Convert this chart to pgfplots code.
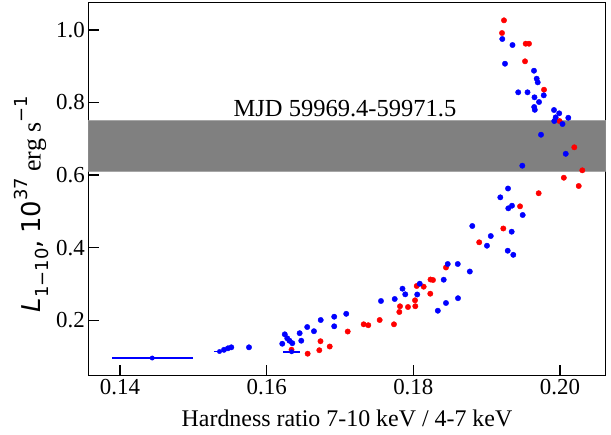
\documentclass[border=0pt]{standalone}
\usepackage{fontspec}
\setmainfont{Liberation Serif}
\newfontfamily\dejavu{DejaVu Sans}
\usepackage{pgfplots}
\pgfplotsset{compat=1.18}

\pgfplotstableread{
x y
0.19236 1.0264
0.19209 0.9915
0.19532 0.9620
0.19577 0.9620
0.19523 0.9135
0.19782 0.8353
0.19993 0.7490
0.20195 0.6766
0.20304 0.6132
0.20052 0.5928
0.20255 0.5700
0.19709 0.5501
0.19455 0.5140
0.19227 0.4529
0.18898 0.4149
0.18445 0.3455
0.18234 0.3124
0.18268 0.3110
0.18046 0.2945
0.18141 0.2926
0.18231 0.2733
0.18023 0.2551
0.18027 0.2388
0.17818 0.2386
0.17927 0.2366
0.17809 0.2229
0.17541 0.2008
0.17736 0.1890
0.17323 0.1890
0.17386 0.1865
0.17105 0.1691
0.16734 0.1424
0.16860 0.1278
0.16718 0.1176
0.16559 0.1080
0.16339 0.1190
}\redtab

\pgfplotstableread{
x y
0.19213 0.9750
0.19352 0.9584
0.19250 0.9069
0.19645 0.8876
0.19682 0.8656
0.19696 0.8556
0.19430 0.8281
0.19557 0.8281
0.19652 0.8143
0.19778 0.8198
0.19714 0.8014
0.19648 0.7876
0.19656 0.7799
0.19918 0.7793
0.19989 0.7702
0.20113 0.7579
0.19941 0.7592
0.19922 0.7490
0.20034 0.7408
0.19741 0.7113
0.20078 0.6587
0.19486 0.6259
0.19291 0.5631
0.19186 0.5388
0.19345 0.5157
0.19295 0.5085
0.19491 0.4901
0.18804 0.4598
0.19341 0.4441
0.19056 0.4322
0.19004 0.4055
0.19287 0.3917
0.19363 0.3804
0.18469 0.3551
0.18606 0.3551
0.18770 0.3344
0.18414 0.3118
0.18609 0.2609
0.18445 0.2477
0.18334 0.2264
0.18087 0.3008
0.17852 0.2871
0.17890 0.2716
0.18053 0.2711
0.17746 0.2587
0.17559 0.2532
0.17085 0.2179
0.16921 0.2099
0.16921 0.1835
0.16737 0.2008
0.16553 0.1815
0.16645 0.1700
0.16450 0.1645
0.16472 0.1438
0.16247 0.1614
0.16281 0.1504
0.16311 0.1438
0.16350 0.1369
0.16213 0.1355
0.15759 0.1256
0.15418 0.1187
0.15473 0.1229
0.15518 0.1256
}\bluetab

\pgfplotstableread{
x y xerr
0.14440 0.0961 0.0055
0.16341 0.1132 0.00119
0.15357 0.1140 0.0007
}\errtab

\begin{document}
\begin{tikzpicture}
\useasboundingbox (-88.3bp,-59.3bp) rectangle (522.7bp,375.7bp);
\begin{axis}[
  at={(0,0)}, anchor=south west,
  scale only axis, width=517.4bp, height=373bp,
  xmin=0.13568, xmax=0.20623, ymin=0.0474, ymax=1.075,
  xtick={0.14,0.16,0.18,0.20}, xticklabels={0.14,0.16,0.18,0.20},
  ytick={0.2,0.4,0.6,0.8,1.0}, yticklabels={0.2,0.4,0.6,0.8,1.0},
  tick align=inside, xtick pos=bottom, ytick pos=left,
  major tick length=11bp,
  tick style={line width=1.3bp, black},
  axis line style={line width=1.3bp},
  ticklabel style={font=\fontsize{23}{26}\selectfont},
  xlabel={Hardness ratio 7-10 keV / 4-7 keV},
  xlabel style={font=\fontsize{24}{28}\selectfont, at={(axis description cs:0.5,-0.114)}, anchor=center},
  ylabel={{\dejavu\itshape L}\raisebox{-0.3em}{\dejavu\fontsize{18}{20}\selectfont 1−10}{\dejavu,} {\dejavu 10}\raisebox{0.5em}{\dejavu\fontsize{18}{20}\selectfont 37} erg s\raisebox{0.5em}{\dejavu\fontsize{18}{20}\selectfont −1}},
  ylabel style={font=\fontsize{26}{30}\selectfont, at={(axis description cs:-0.11,0.46)}, anchor=center},
]
\addplot[fill=black!50, draw=black!35, line width=0.8bp] coordinates {(0.13568,0.611) (0.20623,0.611) (0.20623,0.751) (0.13568,0.751)} -- cycle;
\node[anchor=base, font=\fontsize{24.6}{28}\selectfont] at (axis cs:0.17068,0.7628) {MJD 59969.4-59971.5};
\addplot[only marks, mark=*, mark size=2.7bp, color=red, mark options={draw=red, fill=red}] table[x=x,y=y] {\redtab};
\addplot[only marks, mark=*, mark size=2.7bp, color=blue, mark options={draw=blue, fill=blue}] table[x=x,y=y] {\bluetab};
\addplot[only marks, mark=*, mark size=2.2bp, color=blue, mark options={draw=blue, fill=blue},
  error bars/.cd, x dir=both, x explicit, error mark=none,
  error bar style={line width=1.8bp, blue}] table[x=x,y=y,x error=xerr] {\errtab};
\end{axis}
\end{tikzpicture}
\end{document}
